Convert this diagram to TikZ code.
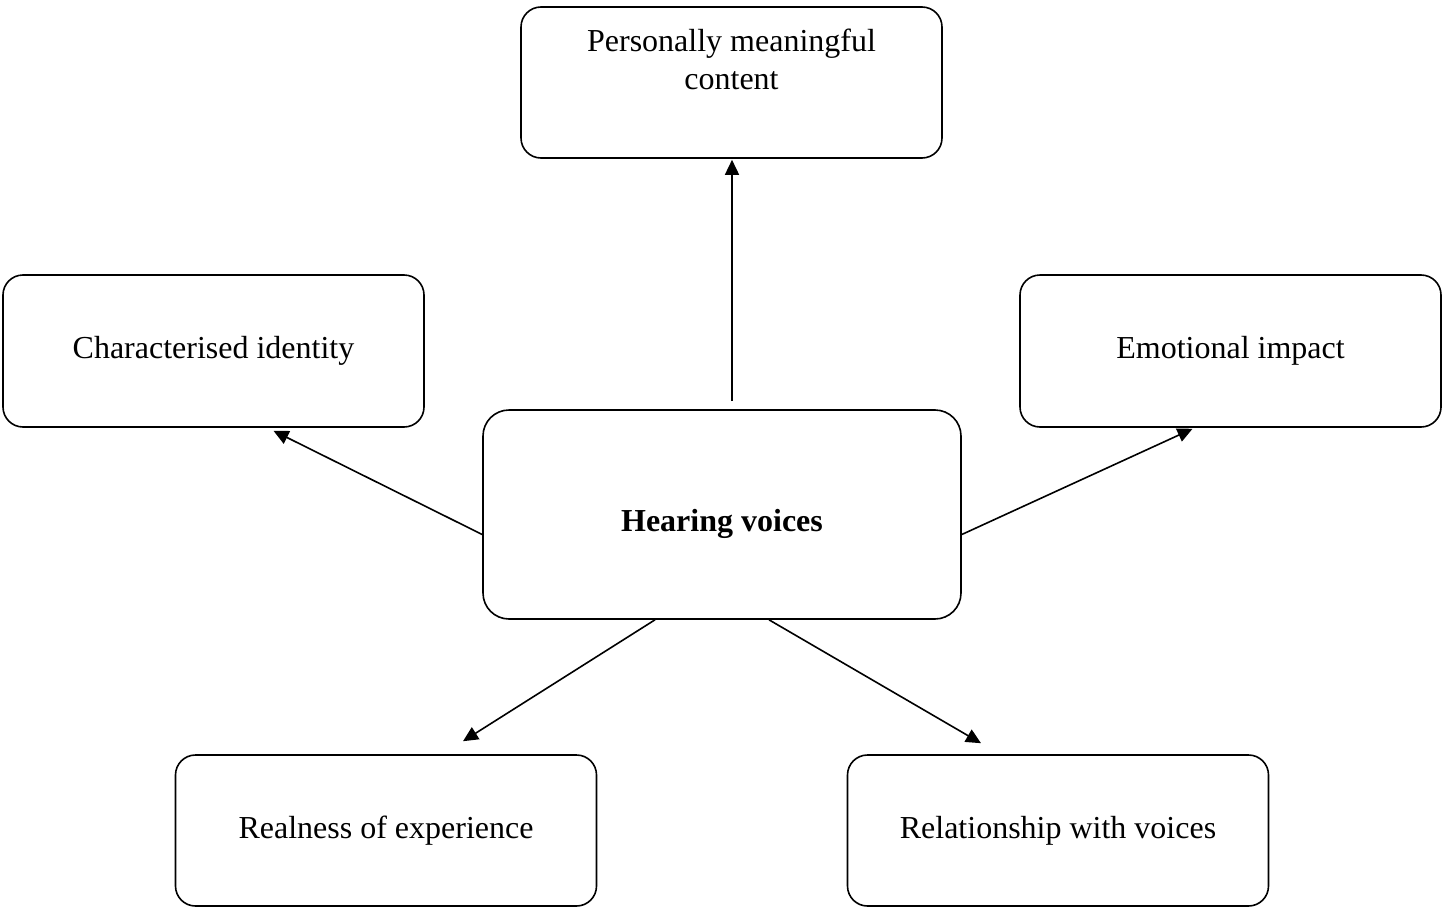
\documentclass[tikz,border=0pt]{standalone}
\usepackage{fontspec}
\setmainfont{Liberation Serif}
\usetikzlibrary{arrows.meta,positioning}

\begin{document}
\begin{tikzpicture}
    [x=1pt,y=-1pt,
     box/.style={shape=rectangle,draw=black,line width=1.6pt,rounded corners=20pt,
       minimum width=421pt,minimum height=152pt,align=center,
       font=\fontsize{32}{38}\selectfont},
     post/.style={-{Triangle[length=15pt,width=14pt]},line width=1.6pt}]
    \useasboundingbox (0,0) rectangle (1442,907);
    \node [box,minimum width=478pt,minimum height=209pt,rounded corners=26pt,
      text height=41pt,text depth=7pt,
      font=\fontsize{32}{38}\selectfont\bfseries] (hv) at (722,514.5) {Hearing voices};
    \node [box,minimum height=151pt,text depth=46pt] (pmc) at (731.5,82.5) {Personally meaningful\\content};
    \node [box] (ci) at (213.5,351) {Characterised identity};
    \node [box] (ei) at (1230.5,351) {Emotional impact};
    \node [box,minimum height=151pt] (roe) at (386,830.5) {Realness of experience};
    \node [box,minimum height=151pt] (rwv) at (1058,830.5) {Relationship with voices};
    \draw [post,shorten <=8pt,shorten >=1pt] ([xshift=0.5pt]hv.north -| pmc.south) -- ([xshift=0.5pt]pmc.south);
    \draw [post] ([yshift=-20pt]hv.west) -- ([xshift=60pt,yshift=-3pt]ci.south);
    \draw [post] ([yshift=-20pt]hv.east) -- ([xshift=-38pt,yshift=-1pt]ei.south);
    \draw [post] ([xshift=-67pt]hv.south) -- ([xshift=77pt,yshift=13pt]roe.north);
    \draw [post] ([xshift=47pt]hv.south) -- ([xshift=-77pt,yshift=11pt]rwv.north);
  \end{tikzpicture}
\end{document}
